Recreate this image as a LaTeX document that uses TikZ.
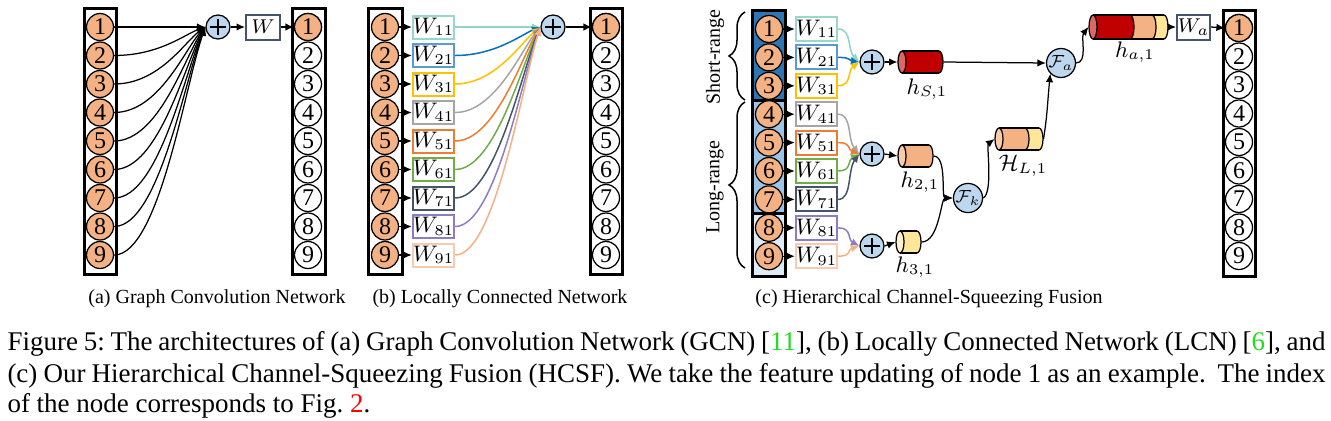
\documentclass[tikz,border=0pt]{standalone}
\usepackage[no-math]{fontspec}
\setmainfont{Liberation Serif}
\usetikzlibrary{arrows.meta,decorations.pathreplacing,calc}
\definecolor{peach}{HTML}{F4B183}
\definecolor{peachface}{HTML}{F8CBAD}
\definecolor{plusblue}{HTML}{BDD7EE}
\definecolor{darkred}{HTML}{C00000}
\definecolor{redface}{HTML}{E06666}
\definecolor{ylw}{HTML}{FFE699}
\definecolor{ylwface}{HTML}{FFF2CC}
\definecolor{slate}{HTML}{44546A}
\definecolor{blueA}{HTML}{2E75B6}
\definecolor{blueB}{HTML}{9DC3E6}
\definecolor{blueC}{HTML}{DEEBF7}
\definecolor{citegreen}{HTML}{22DD22}
\definecolor{citered}{HTML}{FF0000}
% box colours
\definecolor{bc1}{HTML}{99D8C9}\definecolor{lc1}{HTML}{8FD4C4}
\definecolor{bc2}{HTML}{5B9BD5}\definecolor{lc2}{HTML}{0070C0}
\definecolor{bc3}{HTML}{FFC000}\definecolor{lc3}{HTML}{FFC000}
\definecolor{bc4}{HTML}{A5A5A5}\definecolor{lc4}{HTML}{A5A5A5}
\definecolor{bc5}{HTML}{ED7D31}\definecolor{lc5}{HTML}{ED7D31}
\definecolor{bc6}{HTML}{70AD47}\definecolor{lc6}{HTML}{70AD47}
\definecolor{bc7}{HTML}{44546A}\definecolor{lc7}{HTML}{44546A}
\definecolor{bc8}{HTML}{8E7CC3}\definecolor{lc8}{HTML}{8E7CC3}
\definecolor{bc9}{HTML}{F8CBAD}\definecolor{lc9}{HTML}{F4B183}
\tikzset{
  bigbox/.style={draw=black, line width=1.2pt},
  nd/.style={circle, draw=black, line width=0.5pt, fill=peach, minimum size=10.8pt, inner sep=0pt, font=\fontsize{9.6}{10}\selectfont},
  ndw/.style={nd, fill=white},
  plusc/.style={circle, draw=black, line width=0.5pt, fill=plusblue, minimum size=9.6pt, inner sep=0pt},
  wbox/.style={draw, line width=0.8pt, fill=white, inner sep=0pt, font=\fontsize{9}{10}\selectfont},
  conn/.style={line width=0.5pt, -{Latex[length=3.4pt,width=3pt]}},
  cconn/.style={line width=0.6pt, -{Latex[length=3.4pt,width=3pt]}},
  subcap/.style={anchor=base, inner sep=0pt, font=\fontsize{8}{9}\selectfont},
  lab/.style={inner sep=0pt, font=\fontsize{9}{10}\selectfont},
  cylbox/.style={inner sep=0pt, minimum height=8.8pt},
  capt/.style={anchor=base west, inner sep=0pt, font=\fontsize{10.8}{12.4}\selectfont\frenchspacing},
  rangelab/.style={rotate=90, inner sep=0pt, font=\fontsize{8}{9}\selectfont},
  bracestyle/.style={decorate, decoration={brace, amplitude=6.4pt}, line width=0.6pt}
}
\newcommand\mkplus[2]{\node[plusc] (#1) at (#2) {};
  \draw[line width=0.6pt] ($(#1.center)+(-8,0)$) -- ($(#1.center)+(8,0)$) ($(#1.center)+(0,-8)$) -- ($(#1.center)+(0,8)$);}
\newcommand\cend[4]{\filldraw[fill=#4, draw=black, line width=0.5pt] (#1,#2) ellipse [x radius=1.6pt, y radius=#3];}
\newcommand\cbody[5]{\fill[#5] (#1,#3) rectangle (#2,#4);}
\newcommand\cedges[4]{\draw[line width=0.5pt] (#1,#3) -- (#2,#3) (#1,#4) -- (#2,#4);}
\begin{document}
\begin{tikzpicture}[x=0.4pt, y=-0.4pt]
\useasboundingbox (0,0) rectangle (1331,420);
%% ---------------- panel (a)
\draw[bigbox] (84,8) rectangle (116,274);
\draw[bigbox] (292,8) rectangle (325,274);
\foreach \i in {1,...,9}{
  \pgfmathsetmacro\yy{27+28.5*(\i-1)}
  \node[nd] (a\i) at (100,\yy) {\i};
  \node[ndw] (ar\i) at (308,\yy) {\i};
}
\node[nd] at (ar1) {1};
\mkplus{ap}{218,27}
\node[wbox, draw=slate, minimum width=13.6pt, minimum height=10pt, font=\fontsize{8}{9}\selectfont] (aw) at (263,27) {$W$};
\draw[conn] (a1.east) -- (ap.west);
\foreach \i in {2,...,9}{
  \pgfmathsetmacro\dy{0.25*28.5*(\i-1)}
  \draw[conn] (a\i.east) .. controls +(45,0) and +(-20,\dy) .. (ap.west);
}
\draw[conn] (ap.east) -- (aw.west);
\draw[conn] (aw.east) -- (ar1.west);
\node[subcap] (capa) at (217,303) {(a) Graph Convolution Network};
%% ---------------- panel (b)
\draw[bigbox] (368,8) rectangle (402,274);
\draw[bigbox] (590,8) rectangle (622,274);
\foreach \i in {1,...,9}{
  \pgfmathsetmacro\yy{27+28.5*(\i-1)}
  \node[nd] (b\i) at (385,\yy) {\i};
  \node[ndw] (br\i) at (606,\yy) {\i};
  \node[wbox, draw=bc\i, minimum width=14pt, minimum height=9.2pt] (bw\i) at (433.5,\yy) {$W_{\i1}$};
  \draw[conn] (b\i.east) -- (bw\i.west);
}
\node[nd] at (br1) {1};
\mkplus{bp}{553,27}
\draw[cconn, color=lc1] (bw1.east) -- (bp.west);
\foreach \i in {2,...,9}{
  \pgfmathsetmacro\dy{0.25*28.5*(\i-1)}
  \draw[cconn, color=lc\i] (bw\i.east) .. controls +(40,0) and +(-18,\dy) .. (bp.west);
}
\draw[conn] (bp.east) -- (br1.west);
\node[subcap] (capb) at (500,303) {(b) Locally Connected Network};
%% ---------------- panel (c)
\fill[blueA] (752,10) rectangle (785,100);
\fill[blueB] (752,100) rectangle (785,213);
\fill[blueC] (752,213) rectangle (785,276);
\draw[bigbox] (752,10) rectangle (785,276);
\draw[bigbox] (752,100) -- (785,100) (752,213) -- (785,213);
\draw[bigbox] (1223,10) rectangle (1255,276);
\foreach \i in {1,...,9}{
  \pgfmathsetmacro\yy{29+28.4*(\i-1)}
  \pgfmathsetmacro\yr{28+28.5*(\i-1)}
  \node[nd] (c\i) at (769,\yy) {\i};
  \node[ndw] (cr\i) at (1239,\yr) {\i};
  \node[wbox, draw=bc\i, minimum width=13.2pt, minimum height=9.6pt] (cw\i) at (816.5,\yy) {$W_{\i1}$};
  \draw[conn] (c\i.east) -- (cw\i.west);
}
\node[nd] at (cr1) {1};
\mkplus{cp1}{872,62}
\mkplus{cp2}{872,154}
\mkplus{cp3}{872,246}
\foreach \i/\p/\yp in {1/cp1/62,2/cp1/62,3/cp1/62,4/cp2/154,5/cp2/154,6/cp2/154,7/cp2/154,8/cp3/246,9/cp3/246}{
  \pgfmathsetmacro\dy{0.35*(29+28.4*(\i-1)-\yp)}
  \draw[cconn, color=lc\i] (cw\i.east) .. controls +(14,0) and +(-12,\dy) .. (\p.west);
}
% braces and range labels
\draw[bracestyle] (745,100) -- (745,12);
\draw[bracestyle] (745,268) -- (745,102);
\node[rangelab] (srange) at (715,57) {Short-range};
\node[rangelab] (lrange) at (715,187) {Long-range};
% cylinders
\cend{939}{62}{4.4pt}{darkred}
\cbody{902}{939}{51}{73}{darkred}
\cedges{902}{939}{51}{73}
\cend{902}{62}{4.4pt}{redface}
\node[cylbox, minimum width=18pt] (hS) at (920.5,62) {};
\cend{929}{156}{4.4pt}{peach}
\cbody{902}{929}{145}{167}{peach}
\cedges{902}{929}{145}{167}
\cend{902}{156}{4.4pt}{peachface}
\node[cylbox, minimum width=14pt] (h2) at (915.5,156) {};
\cend{917}{242}{4.4pt}{ylw}
\cbody{900}{917}{231}{253}{ylw}
\cedges{900}{917}{231}{253}
\cend{900}{242}{4.4pt}{ylwface}
\node[cylbox, minimum width=10pt] (h3) at (908.5,242) {};
\cend{1039}{139}{4.4pt}{ylw}
\cbody{1025}{1039}{128}{150}{ylw}
\cend{1025}{139}{4.4pt}{peach}
\cbody{999}{1025}{128}{150}{peach}
\cedges{999}{1039}{128}{150}
\cend{999}{139}{4.4pt}{peachface}
\node[cylbox, minimum width=19.2pt] (hL) at (1019,139) {};
\cend{1164}{27}{4.8pt}{ylw}
\cbody{1152}{1164}{15}{39}{ylw}
\cend{1152}{27}{4.8pt}{peach}
\cbody{1130}{1152}{15}{39}{peach}
\cend{1130}{27}{4.8pt}{darkred}
\cbody{1093}{1130}{15}{39}{darkred}
\cedges{1093}{1164}{15}{39}
\cend{1093}{27}{4.8pt}{redface}
\node[cylbox, minimum width=31.6pt, minimum height=9.6pt] (ha) at (1128.5,27) {};
% labels
\node[lab] (lhS) at (927,89) {$h_{S,1}$};
\node[lab] (lh2) at (920,182) {$h_{2,1}$};
\node[lab] (lh3) at (915,267) {$h_{3,1}$};
\node[lab] (lhL) at (1023,166) {$\mathcal{H}_{L,1}$};
\node[lab] (lha) at (1135,52) {$h_{a,1}$};
% fusion nodes
\node[plusc, font=\fontsize{7}{8}\selectfont] (fk) at (968,198) {$\mathcal{F}_k$};
\node[plusc, font=\fontsize{7}{8}\selectfont] (fa) at (1061,63) {$\mathcal{F}_a$};
\node[wbox, draw=slate, minimum width=13.2pt, minimum height=10pt, font=\fontsize{8}{9}\selectfont] (wa) at (1193.5,27) {$W_a$};
% connectors
\draw[conn] (cp1.east) -- (hS.west);
\draw[conn] (cp2.east) -- (h2.west);
\draw[conn] (cp3.east) -- (h3.west);
\draw[conn] (hS.east) -- (fa.west);
\draw[conn] (h2.east) .. controls +(14,0) and +(-12,0) .. (fk.west);
\draw[conn] (h3.east) .. controls +(18,0) and +(-12,0) .. (fk.west);
\draw[conn] (fk.east) .. controls +(10,-5) and +(-8,6) .. (hL.west);
\draw[conn] (hL.east) .. controls +(4,-25) and +(-3,30) .. (fa.225);
\draw[conn] (fa.east) .. controls +(12,0) and +(-8,10) .. (ha.west);
\draw[conn] (ha.east) -- (wa.west);
\draw[conn] (wa.east) -- (cr1.west);
\node[subcap] (capc) at (929,303) {(c) Hierarchical Channel-Squeezing Fusion};
%% ---------------- caption
\node[capt] (cap1) at (7,350) {\makebox[527.2pt][s]{Figure 5: The architectures of (a) Graph Convolution Network (GCN) [\textcolor{citegreen}{11}], (b) Locally Connected Network (LCN) [\textcolor{citegreen}{6}], and}};
\node[capt] (cap2) at (7,382) {\makebox[527.2pt][s]{(c) Our Hierarchical Channel-Squeezing Fusion (HCSF). We take the feature updating of node 1 as an example.\hspace{0.2em} The index}};
\node[capt] (cap3) at (7,412) {of the node corresponds to Fig.\ \textcolor{citered}{2}.};
\end{tikzpicture}
\end{document}
